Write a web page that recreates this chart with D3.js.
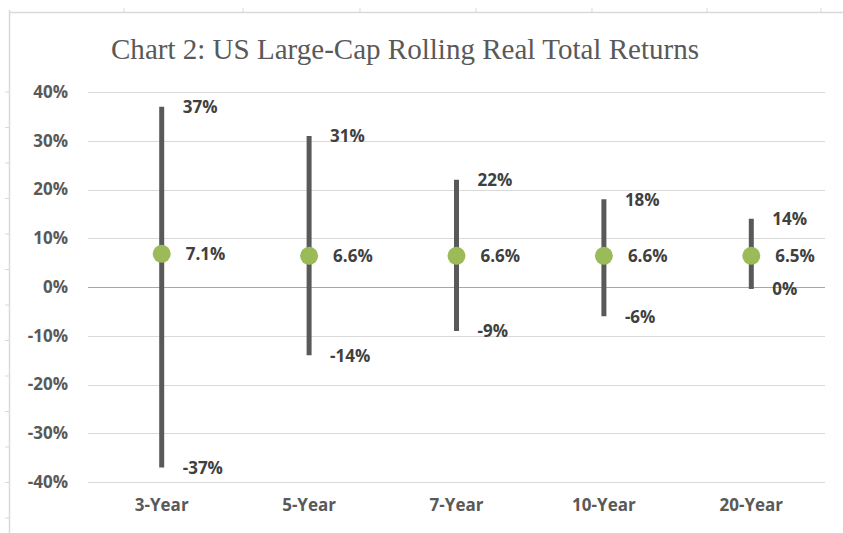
<!DOCTYPE html>
<html><head><meta charset="utf-8">
<script src="https://cdn.jsdelivr.net/npm/d3@7"></script>
<style>body{margin:0;background:#fff}</style>
</head><body>
<svg id="c" width="843" height="533"></svg>
<script>
const categories = ["3-Year","5-Year","7-Year","10-Year","20-Year"];
const highs = [37, 31, 22, 18, 14];
const lows = [-37, -14, -9, -6, -0.4];
const medians = [6.8, 6.4, 6.4, 6.4, 6.4];
const medianLabels = ["7.1%","6.6%","6.6%","6.6%","6.5%"];
const yTicks = [40, 30, 20, 10, 0, -10, -20, -30, -40];
const title = "Chart 2: US Large-Cap Rolling Real Total Returns";

const svg = d3.select("#c");
// spreadsheet frame
svg.append("line").attr("x1",9).attr("x2",843).attr("y1",12.5).attr("y2",12.5).attr("stroke","#d9d9d9").attr("stroke-width",1.5);
svg.append("line").attr("x1",9.5).attr("x2",9.5).attr("y1",10).attr("y2",533).attr("stroke","#d9d9d9").attr("stroke-width",1.5);
[124,243,360,476,592,707,821].forEach(x=>svg.append("line").attr("x1",x).attr("x2",x).attr("y1",8).attr("y2",12).attr("stroke","#d9d9d9"));
d3.range(92,533,35.5).forEach(y=>svg.append("line").attr("x1",5).attr("x2",9).attr("y1",y).attr("y2",y).attr("stroke","#d9d9d9"));

const x = d3.scaleBand().domain(categories).range([88,825]);
const y = d3.scaleLinear().domain([-40,40]).range([482,92]);

svg.append("text").attr("x",111).attr("y",59).attr("font-family","Liberation Serif, serif")
  .attr("font-size",29).attr("fill","#595959").attr("textLength",588).attr("lengthAdjust","spacingAndGlyphs").text(title);

// gridlines
svg.append("g").selectAll("line").data(yTicks).join("line")
  .attr("x1",88).attr("x2",825).attr("y1",d=>Math.round(y(d))+0.5).attr("y2",d=>Math.round(y(d))+0.5)
  .attr("stroke",d=>d===0?"#a6a6a6":"#d9d9d9").attr("stroke-width",1);

const F = "Open Sans, sans-serif";
// y axis labels
const yAxis = d3.axisLeft(y).tickValues(yTicks).tickFormat(d=>d+"%").tickSize(0).tickPadding(0);
const ya = svg.append("g").attr("transform","translate(68,0)").call(yAxis);
ya.select(".domain").remove();
ya.selectAll("text").attr("font-family",F).attr("font-weight","bold").attr("font-size",17).attr("fill","#595959");

// x axis labels
const xAxis = d3.axisBottom(x).tickSize(0).tickPadding(0);
const xa = svg.append("g").attr("transform","translate(0,499)").call(xAxis);
xa.select(".domain").remove();
xa.selectAll("text").attr("font-family",F).attr("font-weight","bold").attr("font-size",17).attr("fill","#595959");

const cx = i => x(categories[i]) + x.bandwidth()/2;
const idx = d3.range(categories.length);
const g = svg.append("g");
g.selectAll("line.r").data(idx).join("line").attr("class","r")
  .attr("x1",cx).attr("x2",cx).attr("y1",i=>y(highs[i])).attr("y2",i=>y(lows[i]))
  .attr("stroke","#595959").attr("stroke-width",5);
g.selectAll("circle").data(idx).join("circle")
  .attr("cx",cx).attr("cy",i=>y(medians[i])).attr("r",9).attr("fill","#9bbb59");

const fmt = v => Math.round(v) + "%";
const lab = (sel)=>sel.attr("font-family",F).attr("font-weight","bold").attr("font-size",17).attr("fill","#404040").attr("dominant-baseline","central");
lab(g.selectAll("text.h").data(idx).join("text").attr("class","h")
  .attr("x",i=>cx(i)+21).attr("y",i=>y(highs[i])).text(i=>fmt(highs[i])));
lab(g.selectAll("text.l").data(idx).join("text").attr("class","l")
  .attr("x",i=>cx(i)+21).attr("y",i=>y(lows[i])).text(i=>fmt(lows[i])));
lab(g.selectAll("text.m").data(idx).join("text").attr("class","m")
  .attr("x",i=>cx(i)+24).attr("y",i=>y(medians[i])).text(i=>medianLabels[i]));
</script>
</body></html>
